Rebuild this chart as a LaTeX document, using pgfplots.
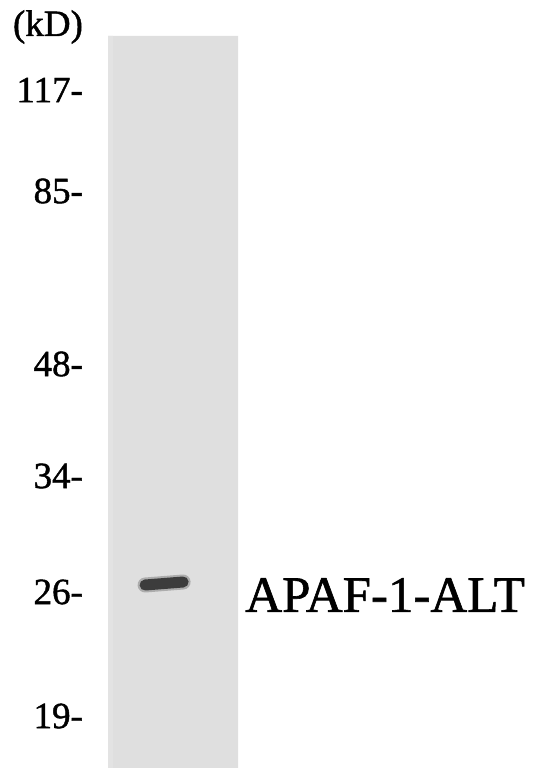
\documentclass[border=0pt]{standalone}
\usepackage{pgfplots}
\pgfplotsset{compat=1.18}
\usepackage{fontspec}
\setmainfont{Liberation Serif}
\newfontfamily\blotfont[FakeBold=1.2]{Liberation Serif}

\definecolor{lane}{HTML}{DFDFDF}
\definecolor{laneedge}{HTML}{E3E3E3}
\definecolor{bandhalo}{HTML}{7A7A7A}
\definecolor{band}{HTML}{3C3C3C}

\begin{document}
\begin{tikzpicture}
\begin{axis}[
    scale only axis,
    width=533bp, height=768bp,
    xmin=0, xmax=533, ymin=0, ymax=768,
    y dir=reverse,
    axis line style={draw=none},
    xtick=\empty,
    ytick={27,90,191,364,476,592,716},
    yticklabels={(kD),117-,85-,48-,34-,26-,19-},
    major tick length=0pt,
    yticklabel style={anchor=east, inner sep=0pt, xshift=83bp,
        font=\blotfont\fontsize{37bp}{40bp}\selectfont},
    clip=false
]
% page corners (keep the picture 533 x 768)
\addplot[draw=none] coordinates {(0,0) (533,768)};

% gel lane
\addplot[fill=lane, draw=none] coordinates {
    (108,36) (238,36) (238,768) (108,768) (108,36)
};
\addplot[fill=laneedge, draw=none] coordinates {
    (108,36) (113,36) (113,768) (108,768) (108,36)
};

% band at ~26 kD
\addplot[bandhalo, line width=15bp, line cap=round, opacity=0.5] coordinates {
    (145,585) (183,582)
};
\addplot[band, line width=11bp, line cap=round] coordinates {
    (145,585) (183,582)
};

\node[anchor=west, inner sep=0pt, font=\blotfont\fontsize{51bp}{54bp}\selectfont]
    at (axis cs:245,595) {APAF-1-ALT};
\end{axis}
\end{tikzpicture}
\end{document}
